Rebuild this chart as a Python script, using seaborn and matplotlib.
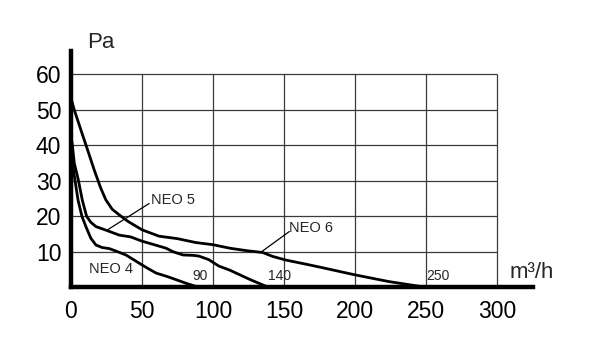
#!/usr/bin/env python3
"""
Pressure vs. airflow curves for NEO 4 / NEO 5 / NEO 6 fans.
"""

import matplotlib
matplotlib.use("Agg")
import matplotlib.pyplot as plt
import pandas as pd
import seaborn as sns


# flow (m3/h) and pressure (Pa)
neo4_flow = [0, 1, 2.8, 5, 7.7, 10.6, 14, 17.6, 22, 27, 33, 38.7, 44, 50, 56,
             60, 68, 75, 82, 90]
neo4_pa = [41.5, 35, 30.2, 24.5, 20, 17, 13.8, 11.9, 11.2, 10.9, 10, 9.1, 7.8,
           6.3, 4.9, 4.0, 3.0, 2.0, 1.0, 0]

neo5_flow = [0, 1, 2.3, 5.2, 8, 11, 14, 17.6, 24.6, 34, 42, 50, 62, 67, 72, 79,
             86, 90, 97, 104, 112, 126, 139]
neo5_pa = [42.5, 40, 35, 30.2, 24.5, 20, 18.3, 17.1, 16.1, 14.7, 14.2, 13,
           11.6, 11, 10, 9.1, 9, 8.8, 7.8, 6, 4.8, 2.2, 0]

neo6_flow = [0, 2.3, 7, 11.7, 16.4, 21, 24.6, 29, 34, 40, 50, 62, 75, 88, 100,
             112, 124, 135, 142, 151, 168, 175, 200, 224, 250]
neo6_pa = [53.3, 50, 44.3, 38.7, 33, 27.9, 24.6, 22, 20.4, 18.6, 16.2, 14.4,
           13.7, 12.6, 12, 11, 10.3, 9.8, 8.7, 7.7, 6.3, 5.7, 3.5, 1.6, 0]

x_ticks = [0, 50, 100, 150, 200, 250, 300]
y_ticks = [10, 20, 30, 40, 50, 60]
max_flow_labels = ["90", "140", "250"]
max_flow_values = [90, 139, 250]


def main() -> None:
    sns.set_style("white")
    plt.rcParams["font.family"] = ["Liberation Sans", "DejaVu Sans"]

    fig = plt.figure(figsize=(5.92, 3.55), dpi=100)
    ax = fig.add_axes([0.1199, 0.1907, 0.7797, 0.665])

    # grid only inside the 0..300 / 0..60 box
    ax.vlines(x_ticks[1:], 0, y_ticks[-1], color="#3a3a3a", lw=0.9, zorder=1)
    ax.hlines(y_ticks, 0, x_ticks[-1], color="#3a3a3a", lw=0.9, zorder=1)

    curves = [
        ("NEO 4", neo4_flow, neo4_pa),
        ("NEO 5", neo5_flow, neo5_pa),
        ("NEO 6", neo6_flow, neo6_pa),
    ]
    for name, flow, pa in curves:
        df = pd.DataFrame({"flow": flow, "pa": pa})
        sns.lineplot(data=df, x="flow", y="pa", color="black", lw=2.0,
                     sort=False, estimator=None, ax=ax, zorder=3,
                     solid_joinstyle="round", solid_capstyle="round")

    ax.set_xlim(0, 325)
    ax.set_ylim(0, 66.5)
    ax.set_xticks(x_ticks)
    ax.set_yticks(y_ticks)
    ax.tick_params(axis="both", labelsize=16.5, width=2.5, colors="black")
    ax.tick_params(axis="y", length=6, pad=1)
    ax.tick_params(axis="x", length=7, pad=2)
    ax.set_xlabel("")
    ax.set_ylabel("")
    for side in ("top", "right"):
        ax.spines[side].set_visible(False)
    for side in ("left", "bottom"):
        ax.spines[side].set_linewidth(3.2)
        ax.spines[side].set_color("black")
        ax.spines[side].set_zorder(4)

    # axis units
    ax.text(11.5, 69, "Pa", fontsize=16, ha="left", va="center", clip_on=False)
    ax.text(308.5, 4.3, "m³/h", fontsize=16, ha="left", va="center", clip_on=False)

    # curve labels with leader lines
    ax.text(12.9, 5.2, "NEO 4", fontsize=10.5, ha="left", va="center")
    ax.plot([25.8, 55], [16.2, 23.6], color="black", lw=0.9, zorder=3)
    ax.text(56.3, 24.6, "NEO 5", fontsize=10.5, ha="left", va="center")
    ax.plot([133.8, 153.7], [9.9, 15.7], color="black", lw=0.9, zorder=3)
    ax.text(153.7, 16.6, "NEO 6", fontsize=10.5, ha="left", va="center")

    # max flow values at the bottom of each curve
    offsets = [-4.5, 0, 0]
    for lbl, val, off in zip(max_flow_labels, max_flow_values, offsets):
        ax.text(val + off, 1.2, lbl, fontsize=10, ha="left", va="bottom")

    fig.savefig("out.png", dpi=100)


if __name__ == "__main__":
    main()
